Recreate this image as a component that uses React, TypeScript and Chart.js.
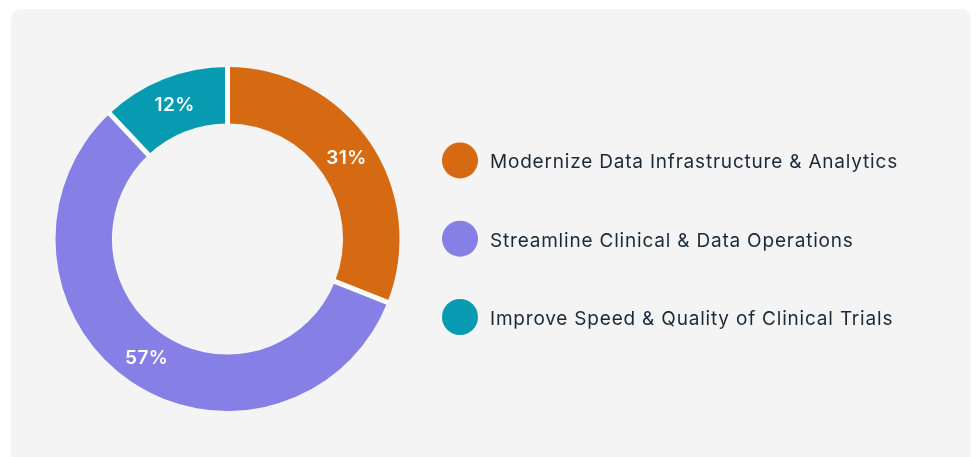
import React, { useEffect, useRef } from "react";
import { Chart, registerables } from "chart.js";

Chart.register(...registerables);

const categories = [
  "Modernize Data Infrastructure & Analytics",
  "Streamline Clinical & Data Operations",
  "Improve Speed & Quality of Clinical Trials",
];
const shares = [31, 57, 12];
const sliceColors = ["#D56A12", "#857FE6", "#069BB1"];

const sliceGaps = {
  id: "sliceGaps",
  afterDatasetsDraw(chart: any, _args: any, opts: any) {
    const ctx = chart.ctx;
    const meta = chart.getDatasetMeta(0);
    ctx.save();
    ctx.strokeStyle = opts.color;
    ctx.lineWidth = opts.width;
    ctx.lineCap = "butt";
    meta.data.forEach((arc: any) => {
      const { x, y, startAngle, innerRadius, outerRadius } = arc.getProps(
        ["x", "y", "startAngle", "innerRadius", "outerRadius"],
        false
      );
      const c = Math.cos(startAngle);
      const s = Math.sin(startAngle);
      ctx.beginPath();
      ctx.moveTo(x + (innerRadius - 1) * c, y + (innerRadius - 1) * s);
      ctx.lineTo(x + (outerRadius + 1) * c, y + (outerRadius + 1) * s);
      ctx.stroke();
    });
    ctx.restore();
  },
};

const sliceLabels = {
  id: "sliceLabels",
  afterDatasetsDraw(chart: any) {
    const ctx = chart.ctx;
    const meta = chart.getDatasetMeta(0);
    const data = chart.data.datasets[0].data;
    ctx.save();
    ctx.font = "600 19px Inter";
    (ctx as any).letterSpacing = "0.4px";
    ctx.fillStyle = "#FFFFFF";
    ctx.textAlign = "center";
    ctx.textBaseline = "alphabetic";
    meta.data.forEach((arc: any, i: number) => {
      const p = arc.tooltipPosition(false);
      ctx.fillText(`${data[i]}%`, p.x, p.y + 6);
    });
    ctx.restore();
  },
};

const sideLegend = {
  id: "sideLegend",
  afterDraw(chart: any, _args: any, opts: any) {
    const ctx = chart.ctx;
    const labels = chart.data.labels;
    const colors = chart.data.datasets[0].backgroundColor;
    ctx.save();
    ctx.font = opts.font;
    (ctx as any).letterSpacing = opts.spacing;
    ctx.textAlign = "left";
    ctx.textBaseline = "alphabetic";
    labels.forEach((t: string, i: number) => {
      const y = opts.y + i * opts.gap;
      ctx.fillStyle = colors[i];
      ctx.beginPath();
      ctx.arc(opts.x, y, opts.r, 0, Math.PI * 2);
      ctx.fill();
      ctx.fillStyle = opts.color;
      ctx.fillText(t, opts.x + opts.textOffset, y + opts.baseline);
    });
    ctx.restore();
  },
};

export default function App() {
  const ref = useRef<HTMLCanvasElement | null>(null);

  useEffect(() => {
    if (!ref.current) return;
    const chart = new Chart(ref.current, {
      type: "doughnut",
      data: {
        labels: categories,
        datasets: [
          {
            data: shares,
            backgroundColor: sliceColors,
            borderWidth: 0,
            hoverOffset: 0,
          },
        ],
      },
      options: {
        animation: false,
        responsive: false,
        maintainAspectRatio: false,
        cutout: "67.2%",
        rotation: 0,
        layout: { padding: { left: 55.5, top: 67, right: 578.5, bottom: 46 } },
        plugins: {
          legend: { display: false },
          tooltip: { enabled: false },
          sliceGaps: { color: "#FFFFFF", width: 5 },
          sideLegend: {
            x: 460,
            y: 160.4,
            gap: 78.3,
            r: 18,
            textOffset: 30,
            baseline: 7.8,
            font: "400 19px Inter",
            spacing: "0.8px",
            color: "#1B2A38",
          },
        } as any,
      },
      plugins: [sliceGaps, sliceLabels, sideLegend],
    });
    return () => chart.destroy();
  }, []);

  return (
    <div
      style={{
        position: "fixed",
        left: 0,
        top: 0,
        width: 978,
        height: 457,
        overflow: "hidden",
        background: "#FFFFFF",
      }}
    >
      <div
        style={{
          position: "absolute",
          left: 11,
          top: 9,
          width: 960,
          height: 470,
          borderRadius: 10,
          background: "#F4F4F4",
        }}
      />
      <canvas
        ref={ref}
        width={978}
        height={457}
        style={{ position: "absolute", left: 0, top: 0, width: 978, height: 457 }}
      />
    </div>
  );
}
